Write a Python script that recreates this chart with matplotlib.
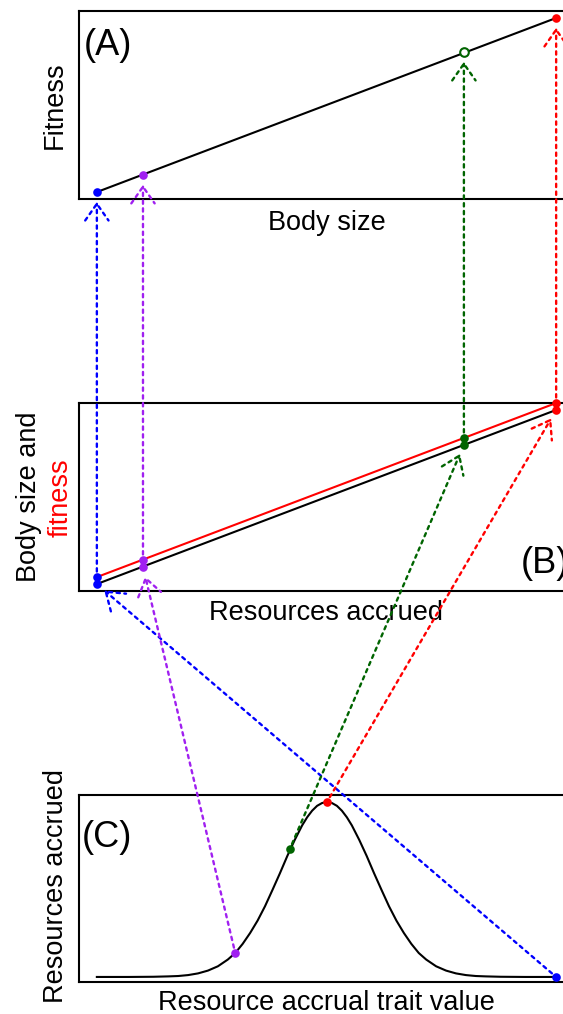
import matplotlib
matplotlib.use("Agg")
import matplotlib.pyplot as plt
from matplotlib.patches import ConnectionPatch

plt.rcParams['font.family'] = ['Liberation Sans', 'DejaVu Sans']

# ---------------- data ----------------
colors = ['#0000FF', '#A020F0', '#006400', '#FF0000']   # blue, purple, green, red

# Panel C: resource accrual trait vs resources accrued (curve)
trait_curve = [0.036, 0.100, 0.150, 0.180, 0.200, 0.220, 0.240, 0.260, 0.280,
               0.300, 0.315, 0.330, 0.345, 0.360, 0.375, 0.390, 0.405, 0.420,
               0.435, 0.450, 0.460, 0.470, 0.480, 0.490, 0.500, 0.510, 0.520,
               0.530, 0.540, 0.550, 0.565, 0.580, 0.595, 0.610, 0.625, 0.640,
               0.655, 0.670, 0.685, 0.700, 0.720, 0.740, 0.760, 0.780, 0.800,
               0.820, 0.850, 0.900, 0.962]
resources_curve = [0.027, 0.027, 0.028, 0.030, 0.032, 0.037, 0.046, 0.061, 0.084,
                   0.120, 0.155, 0.204, 0.262, 0.328, 0.405, 0.492, 0.581, 0.674,
                   0.760, 0.838, 0.881, 0.916, 0.942, 0.957, 0.963, 0.957, 0.942,
                   0.916, 0.881, 0.838, 0.760, 0.674, 0.581, 0.492, 0.405, 0.328,
                   0.262, 0.204, 0.155, 0.120, 0.084, 0.061, 0.046, 0.037, 0.032,
                   0.030, 0.028, 0.027, 0.027]
trait_pts = [0.962, 0.315, 0.425, 0.500]
resources_pts = [0.027, 0.155, 0.711, 0.963]

# Panel B: resources accrued vs body size (black) and fitness (red)
resources_b = [0.036, 0.129, 0.776, 0.962]
body_size_b = [0.037, 0.128, 0.777, 0.963]
fitness_b = [0.074, 0.165, 0.814, 1.000]

# Panel A: body size vs fitness
body_size_a = [0.036, 0.129, 0.776, 0.962]
fitness_a = [0.037, 0.128, 0.782, 0.963]
open_marker = [False, False, True, False]

# ---------------- layout ----------------
W, H = 563, 1014
fig = plt.figure(figsize=(W / 100, H / 100), dpi=100)


def px(x, y):
    return x / W, 1 - y / H


def make_ax(left, top, right, bottom):
    ax = fig.add_axes([left / W, 1 - bottom / H, (right - left) / W, (bottom - top) / H])
    ax.set_xlim(0, 1)
    ax.set_ylim(0, 1)
    ax.set_xticks([])
    ax.set_yticks([])
    for s in ax.spines.values():
        s.set_linewidth(1.5)
    return ax


axA = make_ax(79, 11, 575, 199)
axB = make_ax(79, 403, 575, 591)
axC = make_ax(79, 795, 575, 982)

LW = 1.5
MS = 6.2

# Panel A
axA.plot([body_size_a[0], body_size_a[-1]], [fitness_a[0], fitness_a[-1]], color='black', lw=LW, zorder=2)
for x, y, c, o in zip(body_size_a, fitness_a, colors, open_marker):
    axA.plot(x, y, 'o', ms=MS, mfc='white' if o else c, mec=c, mew=1.5 if o else 0,
             zorder=3, clip_on=False)

# Panel B
axB.plot([resources_b[0], resources_b[-1]], [body_size_b[0], body_size_b[-1]], color='black', lw=LW, zorder=2)
axB.plot([resources_b[0], resources_b[-1]], [fitness_b[0], fitness_b[-1]], color='red', lw=LW, zorder=2)
for x, y1, y2, c in zip(resources_b, body_size_b, fitness_b, colors):
    axB.plot([x, x], [y1, y2], 'o', ms=MS, color=c, mew=0, zorder=3, clip_on=False)

# Panel C
axC.plot(trait_curve, resources_curve, color='black', lw=LW, zorder=2,
         solid_joinstyle='round')
for x, y, c in zip(trait_pts, resources_pts, colors):
    axC.plot(x, y, 'o', ms=MS, color=c, mew=0, zorder=3, clip_on=False)

# ---------------- arrows ----------------
astyle = '->,head_length=0.6,head_width=0.42'
dots = (0, (1.4, 1.9))
for i, c in enumerate(colors):
    cp = ConnectionPatch(xyA=(trait_pts[i], resources_pts[i]), coordsA=axC.transData,
                         xyB=(resources_b[i], body_size_b[i]), coordsB=axB.transData,
                         arrowstyle=astyle, mutation_scale=20, color=c, lw=1.7,
                         linestyle=dots, shrinkA=4, shrinkB=7, zorder=4)
    fig.add_artist(cp)
    cp2 = ConnectionPatch(xyA=(resources_b[i], fitness_b[i]), coordsA=axB.transData,
                          xyB=(body_size_a[i], fitness_a[i]), coordsB=axA.transData,
                          arrowstyle=astyle, mutation_scale=20, color=c, lw=1.7,
                          linestyle=dots, shrinkA=4, shrinkB=7, zorder=4)
    fig.add_artist(cp2)

# ---------------- text ----------------
FS = 19.5
fig.text(*px(327, 230), 'Body size', fontsize=FS, ha='center', va='baseline')
fig.text(*px(326, 620), 'Resources accrued', fontsize=FS, ha='center', va='baseline')
fig.text(*px(326, 1010), 'Resource accrual trait value', fontsize=FS, ha='center', va='baseline')

fig.text(*px(62, 105), 'Fitness', fontsize=FS, rotation=90, rotation_mode='anchor',
         ha='center', va='baseline')
fig.text(*px(36, 497), 'Body size and', fontsize=FS, rotation=90, rotation_mode='anchor',
         ha='center', va='baseline')
fig.text(*px(68, 498), 'fitness', fontsize=FS, color='red', rotation=90, rotation_mode='anchor',
         ha='center', va='baseline')
fig.text(*px(63, 886), 'Resources accrued', fontsize=FS, rotation=90, rotation_mode='anchor',
         ha='center', va='baseline')

PFS = 26
fig.text(*px(84, 55), '(A)', fontsize=PFS, ha='left', va='baseline')
fig.text(*px(521, 573), '(B)', fontsize=PFS, ha='left', va='baseline')
fig.text(*px(82, 847), '(C)', fontsize=PFS, ha='left', va='baseline')

fig.savefig('out.png', dpi=100)
